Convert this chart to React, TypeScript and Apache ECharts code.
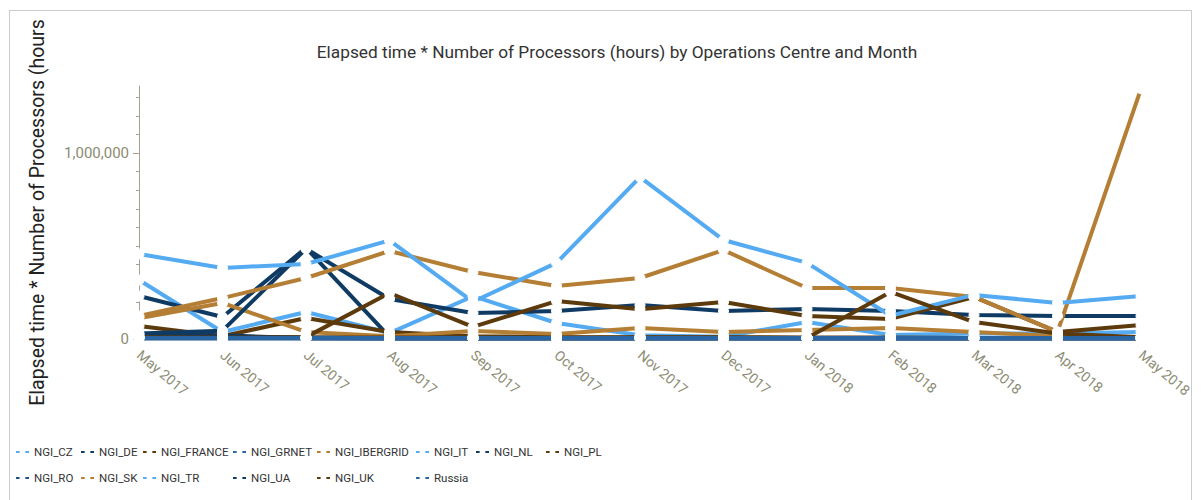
import React, { useEffect, useRef } from 'react';
import * as echarts from 'echarts';

const FONT = "Roboto, sans-serif";

const months = ['May 2017', 'Jun 2017', 'Jul 2017', 'Aug 2017', 'Sep 2017', 'Oct 2017', 'Nov 2017', 'Dec 2017', 'Jan 2018', 'Feb 2018', 'Mar 2018', 'Apr 2018', 'May 2018'];

const NGI_CZ = [317000, 38000, 145000, 32000, 230000, 86000, 20000, 12000, 91000, 22000, 30000, 30000, 38000];
const NGI_DE = [231000, 118000, 490000, 12000, 6000, 6000, 6000, 6000, 6000, 6000, 6000, 6000, 6000];
const NGI_FRANCE = [70000, 15000, 113000, 38000, 15000, 10000, 10000, 10000, 8000, 8000, 6000, 6000, 6000];
const NGI_GRNET = [10000, 10000, 8000, 8000, 6000, 6000, 6000, 6000, 6000, 6000, 6000, 6000, 6000];
const NGI_IBERGRID = [112000, 194000, 38000, 15000, 43000, 27000, 59000, 38000, 48000, 59000, 38000, 15000, 10000];
const NGI_IT = [8000, 5000, 5000, 5000, 5000, 5000, 5000, 5000, 5000, 5000, 5000, 5000, 5000];
const NGI_NL = [30000, 45000, 485000, 215000, 140000, 150000, 183000, 151000, 161000, 151000, 129000, 124000, 124000];
const NGI_PL = [8000, 8000, 10000, 247000, 65000, 204000, 160000, 199000, 124000, 108000, 226000, 38000, 75000];
const NGI_RO = [3000, 3000, 3000, 3000, 3000, 3000, 3000, 3000, 3000, 3000, 3000, 3000, 3000];
const NGI_SK = [124000, 220000, 328000, 473000, 360000, 285000, 328000, 478000, 274000, 274000, 226000, 38000, 1345000];
const NGI_TR = [457000, 382000, 403000, 530000, 200000, 409000, 870000, 532000, 409000, 125000, 237000, 194000, 231000];
const NGI_UA = [22000, 20000, 4000, 3000, 3000, 3000, 3000, 3000, 3000, 3000, 3000, 3000, 3000];
const NGI_UK = [10000, 8000, 8000, 8000, 8000, 8000, 8000, 8000, 5000, 253000, 91000, 30000, 10000];
const Russia = [5000, 5000, 5000, 5000, 5000, 5000, 5000, 5000, 5000, 5000, 5000, 5000, 5000];

const seriesNames = ['NGI_CZ', 'NGI_DE', 'NGI_FRANCE', 'NGI_GRNET', 'NGI_IBERGRID', 'NGI_IT', 'NGI_NL', 'NGI_PL', 'NGI_RO', 'NGI_SK', 'NGI_TR', 'NGI_UA', 'NGI_UK', 'Russia'];
const seriesValues = [NGI_CZ, NGI_DE, NGI_FRANCE, NGI_GRNET, NGI_IBERGRID, NGI_IT, NGI_NL, NGI_PL, NGI_RO, NGI_SK, NGI_TR, NGI_UA, NGI_UK, Russia];

const LIGHT = '#55abf2';
const NAVY = '#0f3a63';
const BROWN = '#5c3a0c';
const MID = '#2a66a3';
const TAN = '#b47e34';
const seriesColors = [LIGHT, NAVY, BROWN, MID, TAN, LIGHT, NAVY, BROWN, '#1f5287', TAN, LIGHT, NAVY, BROWN, MID];

const yMajorTicks = [0, 1000000];
const yMinorTicks = [0, 100000, 200000, 300000, 400000, 500000, 600000, 700000, 800000, 900000, 1000000, 1100000, 1200000, 1300000];
const Y_MAX = 1360000;

const legendColumns = [
  ['NGI_CZ', 'NGI_RO'],
  ['NGI_DE', 'NGI_SK'],
  ['NGI_FRANCE', 'NGI_TR'],
  ['NGI_GRNET', 'NGI_UA'],
  ['NGI_IBERGRID', 'NGI_UK'],
  ['NGI_IT', 'Russia'],
  ['NGI_NL'],
  ['NGI_PL'],
];
const legendLefts = [5, 70, 132, 222, 306, 405, 465, 535];

const AXIS_COLOR = '#a3a38f';
const LABEL_COLOR = '#8b8b73';

export default function App() {
  const ref = useRef<HTMLDivElement>(null);
  useEffect(() => {
    if (!ref.current) return;
    const chart = echarts.init(ref.current, null, { renderer: 'svg' });
    const gridRect = { left: 129, top: 75, right: 59, height: 253, outerBoundsMode: 'none', containLabel: false };
    const option: any = {
      animation: false,
      title: {
        text: 'Elapsed time * Number of Processors (hours) by Operations Centre and Month',
        left: 602,
        textAlign: 'center',
        top: 27,
        textStyle: { fontFamily: FONT, fontSize: 17.3, fontWeight: 'normal', color: '#333' },
      },
      legend: legendColumns.map((col, i) => ({
        orient: 'vertical',
        left: legendLefts[i],
        top: 433,
        padding: 0,
        itemGap: 10,
        itemWidth: 13,
        itemHeight: 5,
        data: col,
        textStyle: { fontFamily: FONT, fontSize: 11.5, color: '#333', lineHeight: 16 },
      })),
      grid: [
        { ...gridRect },
        { ...gridRect },
      ],
      xAxis: [
        {
          type: 'category',
          gridIndex: 0,
          data: months,
          boundaryGap: false,
          axisLine: { show: true, lineStyle: { color: AXIS_COLOR } },
          axisTick: { show: true, length: 5, lineStyle: { color: AXIS_COLOR } },
          axisLabel: { interval: 0, rotate: -40, margin: 14, color: LABEL_COLOR, fontFamily: FONT, fontSize: 14 },
          splitLine: { show: false },
        },
        {
          type: 'category',
          gridIndex: 1,
          data: months,
          boundaryGap: false,
          show: false,
        },
      ],
      yAxis: [
        {
          type: 'value',
          gridIndex: 0,
          min: 0,
          max: Y_MAX,
          axisLine: { show: true, lineStyle: { color: AXIS_COLOR } },
          axisTick: { show: true, length: 3, customValues: yMinorTicks, lineStyle: { color: AXIS_COLOR } },
          axisLabel: { show: false },
          splitLine: { show: false },
          name: 'Elapsed time * Number of Processors (hours',
          nameLocation: 'middle',
          nameGap: 92,
          nameTextStyle: { fontFamily: FONT, fontSize: 19.5, color: '#222' },
        },
        {
          type: 'value',
          gridIndex: 1,
          min: 0,
          max: Y_MAX,
          axisLine: { show: false },
          axisTick: { show: true, length: 6, customValues: yMajorTicks, lineStyle: { color: AXIS_COLOR } },
          axisLabel: {
            customValues: yMajorTicks,
            margin: 10,
            color: LABEL_COLOR,
            fontFamily: FONT,
            fontSize: 15,
            formatter: (v: number) => v.toLocaleString('en-US'),
          },
          splitLine: { show: false },
        },
      ],
      series: seriesNames.map((name, i) => ({
        name,
        type: 'line',
        xAxisIndex: 0,
        yAxisIndex: 0,
        data: seriesValues[i],
        color: seriesColors[i],
        lineStyle: { width: 4, color: seriesColors[i] },
        symbol: 'circle',
        symbolSize: 10,
        showSymbol: true,
        itemStyle: { color: '#fff', borderColor: '#fff', borderWidth: 1 },
      })),
    };
    chart.setOption(option);
    return () => chart.dispose();
  }, []);
  return (
    <div style={{ marginLeft: 1, marginTop: 2, border: '1px solid #ccc', width: 1181, height: 500, boxSizing: 'content-box', overflow: 'visible' }}>
      <div ref={ref} style={{ width: 1190, height: 500 }} />
    </div>
  );
}
